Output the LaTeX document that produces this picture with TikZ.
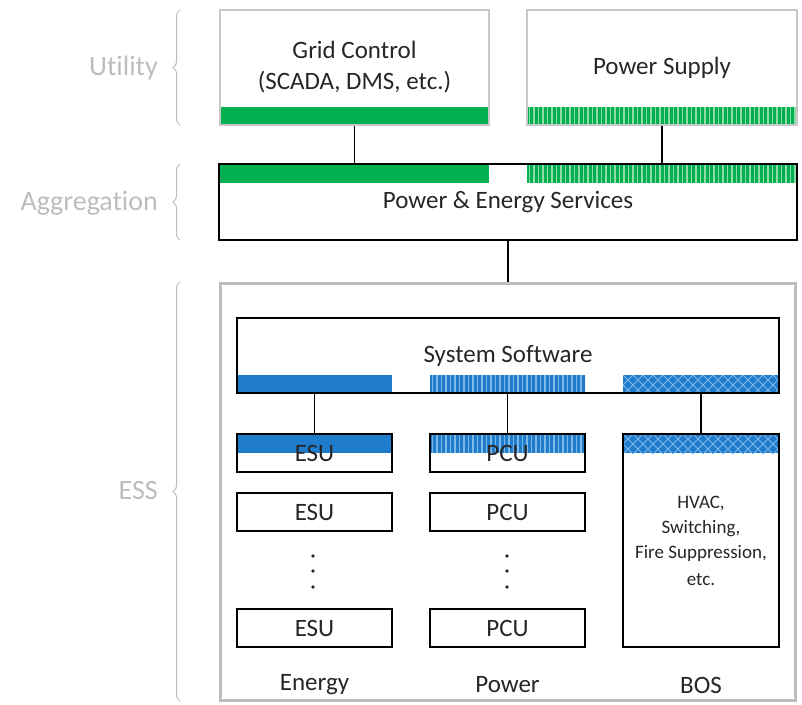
\documentclass[tikz,border=0pt]{standalone}
\usepackage{fontspec}
\setmainfont{Carlito}[Ligatures=NoCommon]
\usetikzlibrary{backgrounds,decorations.pathreplacing}
\definecolor{gr}{HTML}{00B050}
\definecolor{grl}{HTML}{8EDDA8}
\definecolor{bl}{HTML}{1F7BCB}
\definecolor{bll}{HTML}{7CB8EA}
\definecolor{lbl}{HTML}{BDBDBD}
\definecolor{ubd}{HTML}{C8C8C8}
\definecolor{txt}{HTML}{262626}
\newcommand{\vstripes}[5]{%
  \fill[#5] (#1,#2) rectangle (#3,#4);
  \begin{scope}
    \clip (#1,#2) rectangle (#3,#4);
    \draw[line width=1.4pt,#5l] \foreach \i in {1,...,70}{ ({#1+\i*4.5-2},#2) -- ({#1+\i*4.5-2},#4) };
  \end{scope}}
\newcommand{\xhatch}[4]{%
  \fill[bl] (#1,#2) rectangle (#3,#4);
  \begin{scope}
    \clip (#1,#2) rectangle (#3,#4);
    \draw[line width=0.9pt,bll] \foreach \i in {-3,...,20}{ ({#1+\i*10},#2) -- ++(20,20) ({#1+\i*10},#2) -- ++(-20,20) };
  \end{scope}}
\begin{document}
\begin{tikzpicture}[x=1pt,y=-1pt,
  box/.style={draw=black, line width=1.2pt, inner sep=0pt, text=txt, align=center, font=\fontsize{25}{31}\selectfont},
  ubox/.style={box, draw=ubd},
  conn/.style={draw=black, line width=1.2pt},
  lab/.style={text=lbl, anchor=east, inner sep=0pt, font=\fontsize{28}{32}\selectfont},
  brc/.style={draw=lbl, line width=1pt, decorate, decoration={brace, amplitude=7pt}},
  coltxt/.style={text=txt, inner sep=0pt, font=\fontsize{25}{30}\selectfont},
  dotmark/.style={fill=txt}
]
\useasboundingbox (0,0) rectangle (802,704);

% Utility
\node[ubox, minimum width=269pt, minimum height=115pt] (grid) at (354.5,67.5) {Grid Control\\(SCADA, DMS, etc.)};
\node[ubox, minimum width=270pt, minimum height=115pt] (ps) at (662,67.5) {Power Supply};
% Aggregation
\node[box, minimum width=578pt, minimum height=76pt] (agg) at (508,202) {Power \& Energy Services};
% ESS frame
\node[draw=lbl, line width=3pt, minimum width=575pt, minimum height=417pt, inner sep=0pt] (ess) at (508,491.5) {};
% System software
\node[box, minimum width=542pt, minimum height=75pt] (ss) at (508,355.5) {System Software};
% Energy column
\node[box, minimum width=155pt, minimum height=38pt] (esu1) at (314.5,453) {ESU};
\node[box, minimum width=155pt, minimum height=38pt] (esu2) at (314.5,512) {ESU};
\node[box, minimum width=155pt, minimum height=38pt] (esu3) at (314.5,628) {ESU};
% Power column
\node[box, minimum width=155pt, minimum height=38pt] (pcu1) at (507.5,453) {PCU};
\node[box, minimum width=155pt, minimum height=38pt] (pcu2) at (507.5,512) {PCU};
\node[box, minimum width=155pt, minimum height=38pt] (pcu3) at (507.5,628) {PCU};
% BOS column
\node[box, minimum width=156pt, minimum height=213pt, font=\fontsize{19}{25}\selectfont] (bos) at (701,540.5) {HVAC,\\Switching,\\Fire Suppression,\\[2pt]etc.};

% bars
\begin{scope}[on background layer]
  \fill[gr] (220,107) rectangle (489,125);
  \vstripes{527}{107}{797}{125}{gr}
  \fill[gr] (219,164) rectangle (489,183);
  \vstripes{527}{164}{797}{183}{gr}
  \fill[bl] (237,375) rectangle (392,393);
  \vstripes{430}{375}{585}{393}{bl}
  \xhatch{623}{375}{779}{393}
  \fill[bl] (237,434) rectangle (392,453);
  \vstripes{430}{434}{585}{453}{bl}
  \xhatch{623}{434}{779}{453}
\end{scope}

% connectors
\draw[conn] (grid.south) -- (grid.south |- agg.north);
\draw[conn] (ps.south) -- (ps.south |- agg.north);
\draw[conn] (agg.south) -- (agg.south |- ess.north);
\draw[conn] (esu1.north) -- (esu1.north |- ss.south);
\draw[conn] (pcu1.north) -- (pcu1.north |- ss.south);
\draw[conn] (bos.north) -- (bos.north |- ss.south);

% dots
\foreach \yy in {556,571,587}{
  \fill[dotmark] (313,\yy) circle (1.8pt);
  \fill[dotmark] (507,\yy) circle (1.8pt);
}

% column labels
\node[coltxt] (le) at (314.5,685) {Energy};
\node[coltxt] (lp) at (507.5,685) {Power};
\node[coltxt] (lb) at (701,685) {BOS};

% left labels and braces
\node[lab] (lu) at (158,68) {Utility};
\node[lab] (la) at (158,203) {Aggregation};
\node[lab] (lss) at (158,491) {ESS};
\draw[brc] (180,125) -- (180,10);
\draw[brc] (180,240) -- (180,164);
\draw[brc] (180,701) -- (180,282);
\end{tikzpicture}
\end{document}
